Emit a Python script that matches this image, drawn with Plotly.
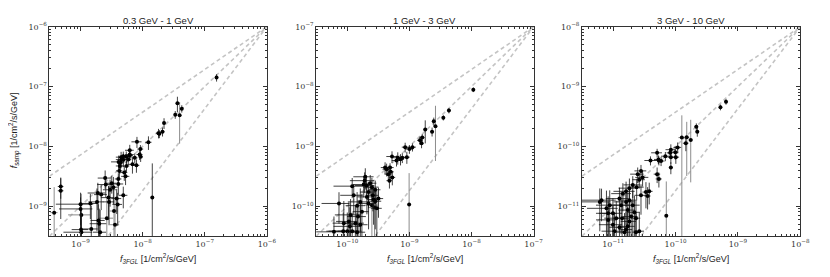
import numpy as np
import plotly.graph_objects as go

# ---------------- data (flux in 1/cm^2/s/GeV) ----------------
# Panel 1: 0.3 GeV - 1 GeV  (values in units of 1e-9)
p1_unit = 1e-9
p1_x = [155, 36.3, 42.7, 33.5, 22.1, 20.9, 18.0, 18.6, 12.4, 8.1, 9.2, 6.2, 6.2, 5.45, 4.5, 4.9, 4.1,
        14.3, 0.48, 0.48, 1.0, 1.0, 1.02, 1.03, 1.44, 1.49, 1.95, 2.0, 2.07, 1.84, 1.9, 2.15, 2.49, 2.55,
        2.82, 2.88, 2.99, 3.18, 3.38, 3.82, 4.06, 4.06, 4.22, 4.3, 4.42, 4.58, 4.88, 5.06, 5.31, 5.5,
        5.86, 6.2, 6.85, 7.46, 7.94, 8.95, 9.29, 3.96, 4.88]
p1_y = [141, 52.5, 42.7, 33.9, 24.5, 17.6, 16.6, 16.2, 11.7, 11.9, 9.0, 8.6, 7.3, 6.7, 6.6, 6.0, 5.5,
        1.39, 2.13, 1.81, 1.08, 0.90, 0.406, 0.367, 1.11, 0.416, 0.577, 0.509, 0.367, 1.18, 1.66, 1.56, 2.95, 2.3,
        1.39, 1.18, 1.88, 2.42, 2.08, 1.34, 2.35, 2.85, 3.89, 4.7, 5.33, 6.04, 6.86, 3.65, 3.15, 4.7,
        6.04, 7.0, 5.0, 6.43, 4.82, 7.3, 6.68, 1.07, 1.52]
p1_xerr = [8, 1.5, 1.5, 1.5, 1, 1.5, 1.5, 1, 1.5, 1.5, 1, 1, 1, 1, 0.8, 1.2, 1,
           0.3, 0.05, 0.05, 0.6, 0.55, 0.3, 0.5, 0.4, 0.4, 0.5, 0.6, 0.5, 0.5, 0.6, 0.5, 0.6, 0.7,
           0.7, 0.6, 0.7, 0.6, 0.6, 0.7, 0.8, 0.5, 0.5, 0.6, 0.5, 0.6, 0.6, 0.6, 0.8, 0.6,
           0.7, 0.8, 1.0, 0.8, 0.9, 1.0, 0.8, 0.7, 0.8]
p1_yerr = [20, 15, 6, 5, 5, 3, 3, 2.5, 3, 2.5, 1.5, 2, 1.5, 1.5, 1.5, 1.5, 1.5,
           3.8, 0.8, 1.2, 0.6, 0.5, 0.5, 0.4, 0.5, 0.6, 0.5, 0.4, 0.5, 0.8, 0.8, 0.7, 1.0, 0.9,
           0.8, 0.7, 0.9, 0.8, 1.0, 0.6, 0.8, 0.7, 1.0, 1.2, 1.2, 1.0, 1.3, 1.0, 0.9, 1.0,
           1.2, 1.3, 1.5, 1.2, 1.2, 1.4, 1.2, 0.6, 0.6]
p1_faint_x = [39.4, 0.376, 1.03, 3.46, 3.59, 2.65]
p1_faint_y = [33.1, 0.78, 0.715, 0.83, 0.49, 0.63]
p1_faint_xerr = [1.5, 0.05, 0.4, 0.5, 0.6, 0.7]
p1_faint_yerr_hi = [22, 1.3, 0.9, 1.0, 0.9, 0.8]
p1_faint_yerr_lo = [22, 1.3, 0.9, 1.0, 0.9, 0.8]

# Panel 2: 1 GeV - 3 GeV  (values in units of 1e-10)
p2_unit = 1e-10
p2_x = [107, 43.3, 35.2, 24.7, 23.2, 18.0, 16.1, 14.8, 15.7, 11.2, 10.0, 8.55, 9.1, 7.7, 6.5, 5.25, 6.2, 7.2,
        4.06, 4.3, 4.88, 5.0, 4.58, 5.31, 4.77, 1.95, 1.9, 1.84, 2.03, 2.34, 2.49, 2.2, 2.58, 2.65, 2.82,
        2.99, 2.2, 2.07, 1.62, 1.44, 1.2, 1.27, 1.13, 1.06, 1.1, 1.2, 1.35, 1.49, 1.0, 0.735, 0.61,
        0.86, 0.88, 1.62, 1.44, 1.72, 3.18, 2.82]
p2_y = [88.7, 39.6, 30.1, 26.2, 17.6, 19.2, 14.0, 12.6, 11.3, 9.7, 9.0, 9.7, 6.6, 6.45, 6.45, 6.76, 5.8, 6.1,
        4.42, 4.14, 4.42, 3.75, 3.43, 3.03, 2.67, 3.1, 2.67, 2.3, 2.21, 2.42, 2.08, 1.72, 1.52, 1.29, 1.21,
        0.92, 1.11, 1.43, 1.18, 1.02, 2.16, 1.52, 0.715, 0.556, 0.46, 0.382, 0.52, 0.67, 0.382, 1.11, 0.372,
        0.382, 0.52, 0.49, 0.367, 0.81, 1.34, 1.88]
p2_xerr = [4, 2, 1.5, 1.5, 1.5, 1, 1.5, 1.5, 1, 1.5, 1.5, 1, 1, 1, 1, 1, 1, 1,
           0.6, 0.6, 0.7, 0.6, 0.6, 0.6, 0.5, 0.7, 0.8, 0.6, 0.7, 0.6, 0.7, 0.6, 0.6, 0.6, 0.7,
           0.6, 0.7, 0.6, 0.6, 0.5, 0.6, 0.5, 0.5, 0.4, 0.5, 0.5, 0.5, 0.5, 0.5, 0.35, 0.3,
           0.4, 0.3, 0.5, 0.5, 0.5, 0.6, 0.6]
p2_yerr = [8, 4, 3, 4, 3, 8, 2, 2, 2, 1.5, 1.5, 1.8, 1.5, 1.2, 1.5, 1.5, 1.2, 1.3,
           1.0, 1.0, 0.8, 0.9, 0.8, 0.8, 0.7, 1.2, 1.0, 0.9, 0.8, 0.9, 0.9, 0.8, 0.7, 0.8, 0.8,
           0.9, 0.7, 0.7, 0.8, 0.7, 0.8, 0.8, 0.6, 0.6, 0.5, 0.4, 0.5, 0.6, 0.4, 0.6, 0.3,
           0.4, 0.7, 0.6, 0.4, 0.8, 0.7, 0.8]
p2_faint_x = [26.3, 9.9, 2.49, 2.75]
p2_faint_y = [21.7, 1.07, 1.04, 0.95]
p2_faint_xerr = [1, 0.2, 0.6, 0.5]
p2_faint_yerr_hi = [26, 2.5, 1.0, 1.0]
p2_faint_yerr_lo = [16, 2.5, 1.0, 1.0]

# Panel 3: 3 GeV - 10 GeV  (values in units of 1e-11)
p3_unit = 1e-11
p3_x = [64.4, 52.4, 21.5, 22.3, 14.6, 10.8, 8.4, 9.9, 8.2, 10.1, 8.4, 6.86, 5.06, 3.96, 5.4,
        5.31, 5.86, 8.4, 5.06, 5.4, 2.47, 2.79, 2.96, 2.62, 2.06, 2.38, 3.35, 3.78, 3.56, 2.79,
        1.82, 1.61, 1.43, 1.26, 1.34, 1.61, 1.82, 2.06, 1.71, 2.19, 2.32, 1.82, 1.71, 1.61, 1.52,
        2.32, 2.62, 1.05, 0.83, 0.83, 0.88, 0.78, 0.65, 0.61, 0.99, 1.12, 1.26, 0.99, 1.39, 1.94]
p3_y = [55.7, 45.0, 21.2, 17.5, 11.3, 9.6, 8.8, 8.0, 7.8, 6.6, 6.6, 6.85, 7.8, 5.8, 5.8,
        6.04, 5.68, 4.42, 3.43, 2.85, 3.43, 3.89, 3.03, 2.77, 2.27, 2.08, 1.72, 1.77, 1.48, 1.52,
        2.0, 1.77, 1.62, 1.34, 1.04, 1.18, 1.26, 1.04, 0.86, 0.79, 0.63, 0.556, 0.46, 0.406, 0.367,
        0.367, 0.382, 0.382, 0.59, 0.76, 1.04, 0.92, 1.26, 1.18, 0.76, 0.63, 0.444, 0.49, 0.63, 0.67]
p3_xerr = [3, 3, 1.5, 1.5, 1.5, 1.5, 1.5, 1.2, 1, 1.3, 1, 1, 1, 0.8, 0.8,
           0.8, 0.8, 0.6, 0.6, 0.6, 0.6, 0.6, 0.7, 0.6, 0.6, 0.7, 0.4, 0.5, 0.4, 0.6,
           0.6, 0.6, 0.5, 0.5, 0.5, 0.6, 0.6, 0.6, 0.5, 0.5, 0.4, 0.5, 0.5, 0.4, 0.4,
           0.3, 0.5, 0.4, 0.3, 0.3, 0.35, 0.4, 0.45, 0.3, 0.4, 0.4, 0.4, 0.4, 0.4, 0.5]
p3_yerr = [6, 5, 3, 3, 3, 2, 2, 2, 1.5, 1.5, 1.5, 1.2, 1.3, 1, 1,
           1.0, 1.0, 1.0, 1.0, 0.8, 1.0, 1.0, 0.9, 0.8, 0.9, 0.8, 0.8, 0.7, 0.6, 0.8,
           0.9, 0.8, 0.8, 0.7, 0.7, 0.7, 0.8, 0.8, 0.8, 0.7, 0.6, 0.5, 0.5, 0.4, 0.4,
           0.4, 0.4, 0.4, 0.6, 0.7, 0.8, 0.9, 0.7, 0.8, 0.6, 0.6, 0.5, 0.5, 0.6, 0.6]
p3_faint_x = [15.1, 12.6, 17.5, 7.1]
p3_faint_y = [14.2, 14.0, 12.8, 0.69]
p3_faint_xerr = [1.5, 1.5, 1.5, 0.15]
p3_faint_yerr_hi = [11.5, 19, 15, 1.9]
p3_faint_yerr_lo = [11, 13.9, 10.3, 1.9]

titles = ["0.3 GeV - 1 GeV", "1 GeV - 3 GeV", "3 GeV - 10 GeV"]
ranges = [(-9.5, -6.0), (-10.5, -7.0), (-11.5, -8.0)]
guide_slopes = [0.714, 1.0, 1.37]

panels = [
    (p1_unit, p1_x, p1_y, p1_xerr, p1_yerr, p1_faint_x, p1_faint_y, p1_faint_xerr, p1_faint_yerr_hi, p1_faint_yerr_lo),
    (p2_unit, p2_x, p2_y, p2_xerr, p2_yerr, p2_faint_x, p2_faint_y, p2_faint_xerr, p2_faint_yerr_hi, p2_faint_yerr_lo),
    (p3_unit, p3_x, p3_y, p3_xerr, p3_yerr, p3_faint_x, p3_faint_y, p3_faint_xerr, p3_faint_yerr_hi, p3_faint_yerr_lo),
]

# ---------------- layout geometry ----------------
# the page body has an 8px default margin; positions below are screen pixels
OFF = 8
W, H = 830, 277
x_px = [(50, 270), (320, 540), (589, 810)]
y_top, y_bot = 21, 235
px_x = lambda p: (p - OFF) / W
px_y = lambda p: (H - (p - OFF)) / H
y_dom = [px_y(y_bot), px_y(y_top)]

fig = go.Figure()
sc = lambda v, u: [a * u for a in v]

for i, (u, x, y, ex, ey, fx, fy, fex, feyh, feyl) in enumerate(panels):
    n = "" if i == 0 else str(i + 1)
    xa, ya = "x" + n, "y" + n
    lo, hi = ranges[i]
    # dashed guide lines through the upper-right corner
    for s in guide_slopes:
        gx = np.array([lo, hi])
        gy = hi + s * (gx - hi)
        fig.add_trace(go.Scatter(x=10 ** gx, y=10 ** gy, mode="lines", xaxis=xa, yaxis=ya,
                                 line=dict(color="#c4c4c4", width=1.6, dash="4px,3px"),
                                 hoverinfo="skip", showlegend=False))
    # faint error-bar points
    fig.add_trace(go.Scatter(
        x=sc(fx, u), y=sc(fy, u), mode="markers", xaxis=xa, yaxis=ya, showlegend=False,
        marker=dict(color="black", size=4),
        error_x=dict(type="data", array=sc(fex, u), color="#8c8c8c", thickness=1, width=0),
        error_y=dict(type="data", symmetric=False, array=sc(feyh, u), arrayminus=sc(feyl, u),
                     color="#8c8c8c", thickness=1, width=0)))
    # main points
    fig.add_trace(go.Scatter(
        x=sc(x, u), y=sc(y, u), mode="markers", xaxis=xa, yaxis=ya, showlegend=False,
        marker=dict(color="black", size=4),
        error_x=dict(type="data", array=sc(ex, u), color="rgba(20,20,20,0.8)", thickness=1, width=0),
        error_y=dict(type="data", array=sc(ey, u), color="rgba(20,20,20,0.8)", thickness=1, width=0)))

    exps = [d for d in range(int(np.floor(lo)), int(np.ceil(hi)) + 1) if lo - 1e-9 <= d <= hi + 1e-9]
    major = [10.0 ** d for d in exps]
    majtext = ["10<sup>−%d</sup>" % (-d) for d in exps]
    minor = [m * 10.0 ** d for d in range(int(np.floor(lo)) - 1, int(np.ceil(hi)) + 1)
             for m in range(2, 10) if lo <= np.log10(m * 10.0 ** d) <= hi]
    common = dict(type="log", range=[lo, hi], showgrid=False, zeroline=False,
                  showline=True, linecolor="#333333", linewidth=1, mirror="allticks",
                  ticks="inside", ticklen=4, tickwidth=1, tickcolor="#333333",
                  tickmode="array", tickvals=major, ticktext=majtext,
                  tickfont=dict(family="DejaVu Serif", size=8, color="#333333"),
                  minor=dict(tickmode="array", tickvals=minor, ticks="inside", ticklen=2,
                             tickwidth=1, tickcolor="#333333"))
    x0, x1 = x_px[i]
    fig.layout["xaxis" + n] = dict(domain=[px_x(x0), px_x(x1)], anchor=ya, **common)
    fig.layout["yaxis" + n] = dict(domain=y_dom, anchor=xa, **common)

    # panel title
    fig.add_annotation(x=px_x((x0 + x1) / 2), y=px_y(15), xref="paper", yref="paper",
                       text=titles[i], showarrow=False, xanchor="center", yanchor="middle",
                       font=dict(family="Liberation Sans", size=9.5, color="#222222"))
    # x-axis title
    fig.add_annotation(x=px_x((x0 + x1) / 2), y=px_y(258), xref="paper", yref="paper",
                       text="<i>f</i><sub><i>3FGL</i></sub> [1/cm<sup>2</sup>/s/GeV]", showarrow=False,
                       xanchor="center", yanchor="middle",
                       font=dict(family="Liberation Sans", size=9, color="#222222"))

# y-axis title (first panel only)
fig.add_annotation(x=px_x(15), y=px_y(127), xref="paper", yref="paper", textangle=-90,
                   text="<i>f</i><sub><i>samp</i></sub> [1/cm<sup>2</sup>/s/GeV]", showarrow=False,
                   xanchor="center", yanchor="middle",
                   font=dict(family="Liberation Sans", size=9, color="#222222"))

fig.update_layout(width=W, height=H, margin=dict(l=0, r=0, t=0, b=0),
                  plot_bgcolor="white", paper_bgcolor="white", showlegend=False)

fig.write_html("out.html", config={"displayModeBar": False, "responsive": False})
